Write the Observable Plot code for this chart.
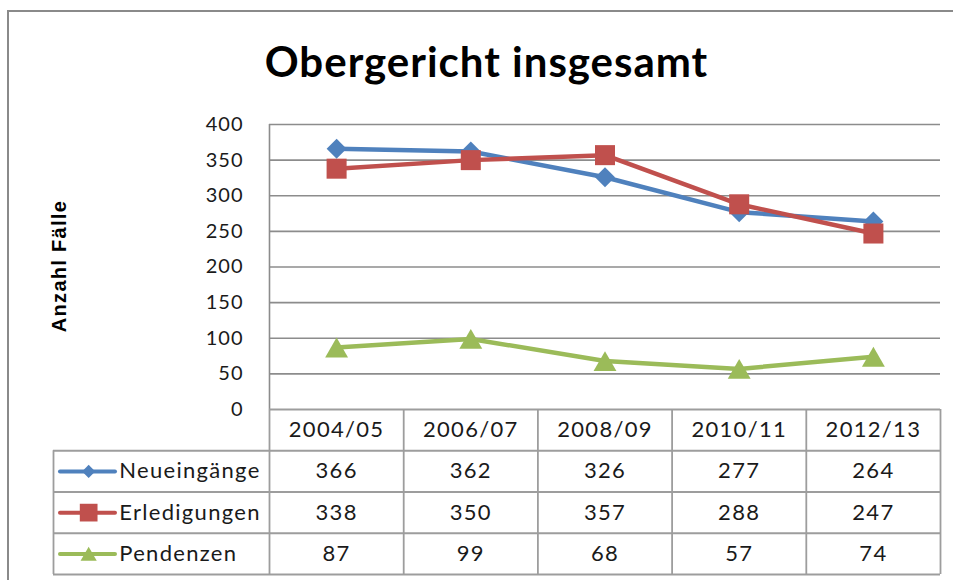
<!DOCTYPE html>
<html>
<head>
<meta charset="utf-8">
<script src="https://cdn.jsdelivr.net/npm/d3@7"></script>
<script src="https://cdn.jsdelivr.net/npm/@observablehq/plot@0.6"></script>
<style>
  html, body { margin: 0; padding: 0; background: #fff; }
  #wrap { position: relative; width: 953px; height: 580px; overflow: hidden; background: #fff; }
  #frame { position: absolute; left: 7px; top: 10px; width: 980px; height: 620px;
           border-top: 2px solid #8a8a8a; border-left: 2px solid #8a8a8a; }
  #title { position: absolute; left: 10px; top: 40px; width: 953px; text-align: center;
           font: bold 42px Lato, sans-serif; line-height: 42px; letter-spacing: 1px; color: #000; }
  #ylabel { position: absolute; left: -40px; top: 254px; width: 200px; height: 24px; line-height: 24px;
            text-align: center; font: bold 20px "Liberation Sans", Arial, sans-serif; letter-spacing: 1.3px;
            color: #000; transform: rotate(-90deg); transform-origin: 50% 50%; }
  .layer { position: absolute; left: 0; top: 0; }
  .layer svg { display: block; }
</style>
</head>
<body>
<div id="wrap">
  <div id="frame"></div>
  <div id="title">Obergericht insgesamt</div>
  <div id="ylabel">Anzahl Fälle</div>
  <div id="chart" class="layer"></div>
  <div id="table" class="layer"></div>
</div>
<script>
// ---- data ----
const categories = ["2004/05", "2006/07", "2008/09", "2010/11", "2012/13"];
const seriesNames = ["Neueingänge", "Erledigungen", "Pendenzen"];
const neueingaenge = [366, 362, 326, 277, 264];
const erledigungen = [338, 350, 357, 288, 247];
const pendenzen = [87, 99, 68, 57, 74];
const yTicks = [0, 50, 100, 150, 200, 250, 300, 350, 400];
const seriesColors = ["#4F81BD", "#C0504D", "#9BBB59"];
const seriesSymbols = ["diamond2", "square", "triangle"];

// ---- derived tables ----
const seriesValues = [neueingaenge, erledigungen, pendenzen];
const rows = seriesNames.flatMap((s, si) =>
  seriesValues[si].map((v, i) => ({series: s, si, col: i, x: i + 0.5, value: v})));

const nCols = categories.length;
const nRows = seriesNames.length + 1;
const W = 953;
const mL = 269, mR = 13;
const colPx = (W - mL - mR) / nCols;
const labelSpan = (mL - 53) / colPx; // legend column width in column units

const gridColor = "#8c8c8c";
const tableColor = "#9d9d9d";
const textColor = "#1a1a1a";

// marker sizes (Plot r) for chart and legend
const chartR = [9.0, 11.3, 8.5];
const chartDy = [0, 0, 3.3];
const legendR = [5.9, 10.0, 6.0];
const legendDy = [0, 0, 2.2];

// ---- chart ----
const chart = Plot.plot({
  width: W, height: 430,
  marginTop: 124, marginBottom: 21, marginLeft: mL, marginRight: mR,
  style: {background: "transparent", fontFamily: "Lato, sans-serif", fontSize: "20px", letterSpacing: "1px", color: textColor},
  x: {domain: [0, nCols], axis: null},
  y: {domain: [0, 400], ticks: yTicks, tickSize: 0, tickPadding: 26, label: null, tickFormat: d => String(d)},
  color: {domain: seriesNames, range: seriesColors},
  marks: [
    Plot.ruleY(yTicks.filter(t => t > 0), {stroke: gridColor, strokeWidth: 1.6}),
    Plot.ruleX([0], {y1: 0, y2: 400, stroke: gridColor, strokeWidth: 1.6}),
    Plot.line(rows, {x: "x", y: "value", z: "series", stroke: "series", strokeWidth: 4.5, strokeLinejoin: "round"}),
    ...seriesNames.map((s, si) =>
      Plot.dot(rows.filter(d => d.si === si), {
        x: "x", y: "value", fill: seriesColors[si], stroke: "none",
        symbol: seriesSymbols[si], r: chartR[si], dy: chartDy[si]
      }))
  ]
});
document.getElementById("chart").appendChild(chart);

// ---- data table ----
const hLines = d3.range(nRows + 1).map(r => ({y: r, x1: r === 0 ? 0 : -labelSpan, x2: nCols}));
const vLines = d3.range(nCols + 1).map(c => ({x: c, y1: 0, y2: nRows}))
  .concat([{x: -labelSpan, y1: 1, y2: nRows}]);
const headerCells = categories.map((c, i) => ({x: i + 0.5, y: 0.5, text: c}));
const valueCells = rows.map(d => ({x: d.x, y: d.si + 1.5, text: String(d.value)}));
const legendRows = seriesNames.map((s, si) => ({series: s, si, y: si + 1.5}));

const table = Plot.plot({
  width: W, height: 580,
  marginTop: 409, marginBottom: 6, marginLeft: mL, marginRight: mR,
  style: {background: "transparent", fontFamily: "Lato, sans-serif", fontSize: "22px", letterSpacing: "1.3px", color: textColor},
  x: {domain: [0, nCols], axis: null},
  y: {domain: [nRows, 0], axis: null},
  marks: [
    Plot.ruleY(hLines, {y: "y", x1: "x1", x2: "x2", stroke: tableColor, strokeWidth: 1.8}),
    Plot.ruleX(vLines, {x: "x", y1: "y1", y2: "y2", stroke: tableColor, strokeWidth: 1.8}),
    Plot.text(headerCells, {x: "x", y: "y", text: "text", fill: textColor}),
    Plot.text(valueCells, {x: "x", y: "y", text: "text", fill: textColor}),
    ...legendRows.map(d =>
      Plot.ruleY([d], {y: "y", x1: -labelSpan + 0.052, x2: -labelSpan + 0.462,
        stroke: seriesColors[d.si], strokeWidth: 4, strokeLinecap: "round"})),
    ...legendRows.map(d =>
      Plot.dot([d], {x: () => -labelSpan + 0.262, y: "y", fill: seriesColors[d.si], stroke: "none",
        symbol: seriesSymbols[d.si], r: legendR[d.si], dy: legendDy[d.si]})),
    Plot.text(legendRows, {x: () => -labelSpan + 0.49, y: "y", text: "series", textAnchor: "start", fill: textColor})
  ]
});
document.getElementById("table").appendChild(table);
</script>
</body>
</html>
